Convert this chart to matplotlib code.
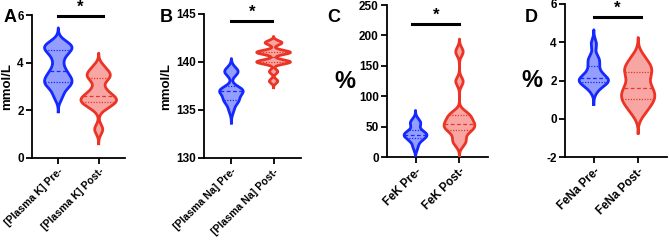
import numpy as np
import matplotlib
matplotlib.use("Agg")
import matplotlib.pyplot as plt

plt.rcParams["font.family"] = ["Liberation Sans", "DejaVu Sans"]
plt.rcParams["font.weight"] = "bold"
plt.rcParams["axes.unicode_minus"] = False

# --- data ---
plasma_k_pre = [2.6, 3.0, 3.1, 3.2, 3.4, 3.5, 3.8, 4.2, 4.5, 4.6, 4.7, 4.8]
plasma_k_post = [1.2, 2.1, 2.3, 2.35, 2.45, 2.55, 2.65, 2.9, 3.3, 3.45, 3.55, 3.8]
plasma_na_pre = [135, 136, 136, 136, 137, 137, 137, 137, 137, 139, 139, 139]
plasma_na_post = [138, 139, 140, 140, 140, 140, 141, 141, 141, 141, 142, 142]
fek_pre = [15, 25, 30, 32, 35, 36, 38, 40, 42, 52, 56, 60]
fek_post = [22, 30, 42, 45, 50, 53, 57, 62, 68, 72, 124, 173]
fena_pre = [1.5, 1.8, 1.9, 1.95, 2.0, 2.1, 2.2, 2.4, 2.7, 3.0, 3.2, 3.9]
fena_post = [0.3, 0.7, 0.9, 1.1, 1.3, 1.5, 1.7, 2.1, 2.4, 2.6, 2.8, 3.2]

labels_k = ["[Plasma K] Pre-", "[Plasma K] Post-"]
labels_na = ["[Plasma Na] Pre-", "[Plasma Na] Post-"]
labels_fek = ["FeK Pre-", "FeK Post-"]
labels_fena = ["FeNa Pre-", "FeNa Post-"]

EDGE = ["#1428ff", "#ec3426"]
FILL = [(0.3, 0.37, 1.0, 0.6), (0.95, 0.42, 0.40, 0.6)]

W, H = 669, 241
fig = plt.figure(figsize=(W / 100, H / 100), dpi=100)


def px_axes(x0, x1, ytop, ybot):
    return fig.add_axes([x0 / W, 1 - ybot / H, (x1 - x0) / W, (ybot - ytop) / H])


def violin(ax, pos, data, bw, half, i, cut=3.0):
    data = np.asarray(data, float)
    y = np.linspace(data.min() - cut * bw, data.max() + cut * bw, 400)
    dens = np.exp(-0.5 * ((y[:, None] - data[None, :]) / bw) ** 2).sum(axis=1)
    w = dens / dens.max() * half
    ax.fill_betweenx(y, pos - w, pos + w, facecolor=FILL[i], edgecolor="none", zorder=2)
    ax.plot(np.r_[pos - w, (pos + w)[::-1], pos - w[0]], np.r_[y, y[::-1], y[0]],
            color=EDGE[i], lw=2.0, solid_joinstyle="round", zorder=3)
    q1, med, q3 = np.percentile(data, [25, 50, 75])
    for q, ls in [(q1, (0, (1, 1.2))), (med, (0, (3, 2))), (q3, (0, (1, 1.2)))]:
        hw = np.interp(q, y, w)
        ax.plot([pos - hw, pos + hw], [q, q], color=EDGE[i], lw=0.9, ls=ls, zorder=4)


panels = [
    dict(rect=(32, 125, 15, 158), data=(plasma_k_pre, plasma_k_post), labels=labels_k,
         ylim=(0, 6), yticks=[0, 2, 4, 6], bw=(0.22, 0.2), half=(0.34, 0.44), xfs=7.6,
         ylabel="mmol/L", letter="A", letter_xy=(4, 17), sig=(5.95, 0.0, 1.1)),
    dict(rect=(204, 301, 14, 158), data=(plasma_na_pre, plasma_na_post), labels=labels_na,
         ylim=(130, 145), yticks=[130, 135, 140, 145], bw=(0.45, 0.22), half=(0.28, 0.40),
         xfs=7.6, ylabel="mmol/L", letter="B", letter_xy=(160, 17), sig=(144.3, 0.0, 0.97)),
    dict(rect=(387, 488, 5, 157), data=(fek_pre, fek_post), labels=labels_fek,
         ylim=(0, 250), yticks=[0, 50, 100, 150, 200, 250], bw=(5.5, 7.0), half=(0.26, 0.35),
         xfs=8.4, ylabel="%", letter="C", letter_xy=(327, 17), sig=(219, -0.08, 1.0)),
    dict(rect=(565, 667, 4, 157), data=(fena_pre, fena_post), labels=labels_fena,
         ylim=(-2, 6), yticks=[-2, 0, 2, 4, 6], bw=(0.25, 0.35), half=(0.33, 0.375),
         xfs=8.4, ylabel="%", letter="D", letter_xy=(525, 17), sig=(5.32, 0.0, 1.07)),
]

for p in panels:
    ax = px_axes(*p["rect"])
    for i, d in enumerate(p["data"]):
        violin(ax, i, d, p["bw"][i], p["half"][i], i)
    ax.set_xlim(-0.65, 1.65)
    ax.set_ylim(*p["ylim"])
    ax.set_yticks(p["yticks"])
    ax.set_xticks([0, 1])
    ax.set_xticklabels(p["labels"], rotation=45, ha="right", rotation_mode="anchor",
                       fontsize=p["xfs"], fontweight="bold")
    for lab in ax.get_yticklabels():
        lab.set_fontsize(8.5)
        lab.set_fontweight("bold")
    for s in ["top", "right"]:
        ax.spines[s].set_visible(False)
    for s in ["left", "bottom"]:
        ax.spines[s].set_linewidth(1.3)
    ax.tick_params(direction="out", length=4, width=1.3, pad=2)
    ax.patch.set_alpha(0)

    if p["ylabel"] == "%":
        ax.set_ylabel("%", fontsize=17, fontweight="bold", rotation=0, labelpad=10,
                      va="center")
    else:
        ax.set_ylabel(p["ylabel"], fontsize=9.5, fontweight="bold", labelpad=3)

    ys, x0, x1 = p["sig"]
    ax.plot([x0, x1], [ys, ys], color="black", lw=2.2, clip_on=False)
    ax.annotate("*", xy=((x0 + x1) / 2, ys), xytext=(0, 1), textcoords="offset points",
                ha="center", va="bottom", fontsize=12, fontweight="bold")

    lx, ly = p["letter_xy"]
    fig.text(lx / W, 1 - ly / H, p["letter"], fontsize=13, fontweight="bold",
             ha="left", va="center")

fig.savefig("out.png", dpi=100)
